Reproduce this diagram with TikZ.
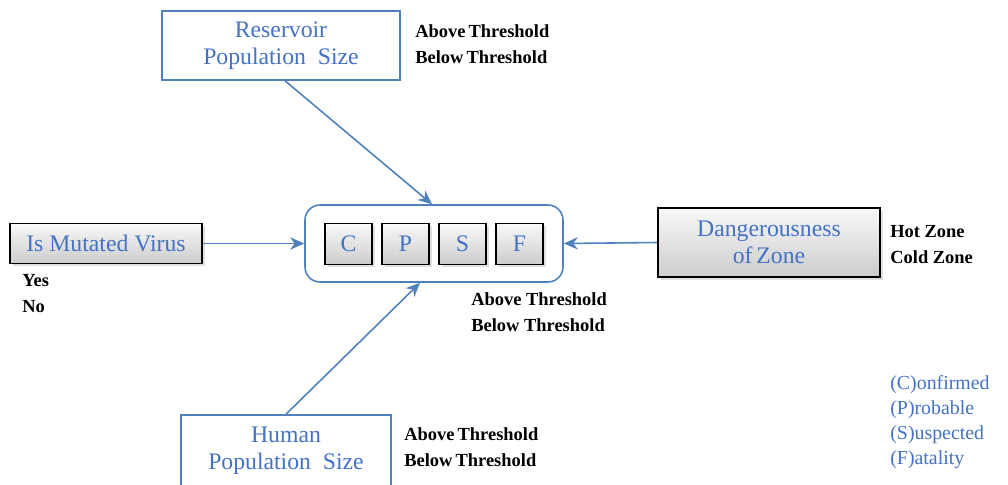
\documentclass[tikz,border=0pt]{standalone}
\usepackage{fontspec}
\setmainfont{Liberation Serif}
\usetikzlibrary{arrows.meta, positioning, shadows}
\definecolor{linkblue}{RGB}{79, 129, 189}
\definecolor{labelblue}{RGB}{68, 114, 196}

\tikzset{
  framebox/.style={draw=linkblue, line width=0.9pt, fill=white, text=labelblue, align=center, inner sep=0pt, font=\fontsize{13.5}{15.3}\selectfont},
  greybox/.style={draw=black, line width=1pt, top color=gray!5, bottom color=gray!40, drop shadow={opacity=0.25, shadow xshift=1.5pt, shadow yshift=-1.5pt}, text=labelblue, align=center, inner sep=0pt, font=\fontsize{13.5}{15.3}\selectfont},
  note/.style={font=\bfseries\fontsize{10.5}{14.8}\selectfont, align=left, anchor=west, inner sep=0pt},
  link/.style={draw=linkblue, line width=0.9pt, -{Stealth[length=8pt, width=7pt]}}
}

\begin{document}
\begin{tikzpicture}[x=0.02cm, y=-0.02cm]
  \clip (0,0) rectangle (1008,484);
  \fill[white] (0,0) rectangle (1008,484);

  % outer frame round the four case boxes
  \node[framebox, rounded corners=0.3cm, minimum width=5.16cm, minimum height=1.54cm] (cpsf) at (434,243.5) {};
  \foreach \c/\x in {C/348.5, P/405.5, S/462.5, F/519.5} {
    \node[greybox, minimum width=0.94cm, minimum height=0.82cm] (case\c) at (\x,244) {\c};
  }

  \node[framebox, minimum width=4.76cm, minimum height=1.38cm] (reservoir) at (281,45.5) {Reservoir\\Population\ \ Size};
  \node[framebox, minimum width=4.2cm, minimum height=1.44cm] (human) at (286,451) {Human\\Population\ \ Size};
  \node[greybox, minimum width=3.84cm, minimum height=0.8cm] (mutated) at (106,243.5) {Is Mutated Virus};
  \node[greybox, minimum width=4.44cm, minimum height=1.38cm] (danger) at (769,242.5) {Dangerousness\\of\,Zone};

  % value labels
  \node[note] (resvalues) at (415,44) {Above\,Threshold\\Below\,Threshold};
  \node[note] (cpsfvalues) at (471,312) {Above Threshold\\Below Threshold};
  \node[note] (humanvalues) at (404,447) {Above\,Threshold\\Below\,Threshold};
  \node[note] (mutvalues) at (22,293.5) {Yes\\No};
  \node[note] (zonevalues) at (890,245) {Hot Zone\\Cold Zone};

  \node[note, font=\fontsize{11.3}{14.2}\selectfont, text=labelblue] (legend) at (890,422.5) {(C)onfirmed\\(P)robable\\(S)uspected\\(F)atality};

  % connectors
  \draw[link] ([xshift=0.08cm]reservoir.south) -- ([xshift=-0.04cm]cpsf.north);
  \draw[link] (human.north) -- ([xshift=-0.28cm]cpsf.south);
  \draw[link] (mutated.east) -- (cpsf.west);
  \draw[link] (danger.west) -- (cpsf.east);
\end{tikzpicture}
\end{document}
